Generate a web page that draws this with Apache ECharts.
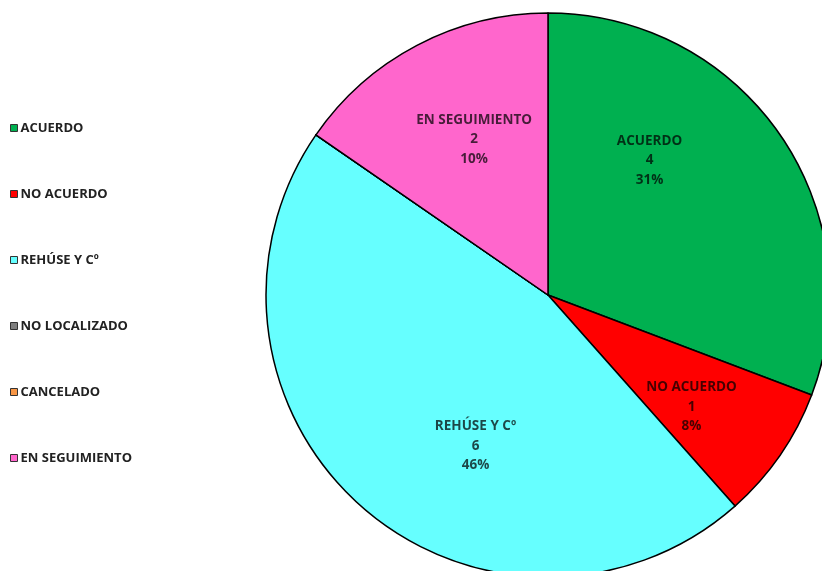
<!DOCTYPE html>
<html><head><meta charset="utf-8">
<script src="https://cdn.jsdelivr.net/npm/echarts@6/dist/echarts.min.js"></script>
<style>html,body{margin:0;padding:0;background:#fff}#c{width:822px;height:571px}</style>
</head><body><div id="c"></div>
<script>
const categories = ["ACUERDO", "NO ACUERDO", "REHÚSE Y Cº", "NO LOCALIZADO", "CANCELADO", "EN SEGUIMIENTO"];
const values = [4, 1, 6, 0, 0, 2];
const percentLabels = ["31%", "8%", "46%", "0%", "0%", "10%"];
const colors = ["#00b050", "#ff0000", "#66ffff", "#7f7f7f", "#f79646", "#ff66cc"];
const labelOffsets = [[-17, -53], [25, 30], [23, 43], [0, 0], [0, 0], [-7, -28]];

const chart = echarts.init(document.getElementById('c'));
const data = categories.map((n, i) => ({
  name: n,
  value: values[i],
  itemStyle: { color: colors[i] },
  label: { show: values[i] > 0, offset: labelOffsets[i] }
}));
chart.setOption({
  animation: false,
  legend: {
    orient: 'vertical',
    left: 5,
    top: 115,
    itemWidth: 7,
    itemHeight: 7,
    itemGap: 50,
    icon: 'rect',
    itemStyle: { borderColor: '#333', borderWidth: 1 },
    textStyle: { fontFamily: 'Open Sans', fontWeight: 700, fontSize: 13, color: '#222', lineHeight: 16, padding: [0, 0, 0, -2] },
    data: categories
  },
  series: [{
    type: 'pie',
    center: [548, 295],
    radius: 282,
    startAngle: 90,
    clockwise: true,
    avoidLabelOverlap: false,
    minAngle: 0,
    itemStyle: { borderColor: '#000', borderWidth: 1.5 },
    label: {
      position: 'inside',
      fontFamily: 'Open Sans',
      fontWeight: 700,
      fontSize: 13.5,
      lineHeight: 19.5,
      color: 'rgba(0,0,0,0.72)',
      align: 'center',
      formatter: p => p.name + '\n' + p.value + '\n' + percentLabels[p.dataIndex]
    },
    labelLine: { show: false },
    emphasis: { disabled: true },
    data: data
  }]
});
</script></body></html>
